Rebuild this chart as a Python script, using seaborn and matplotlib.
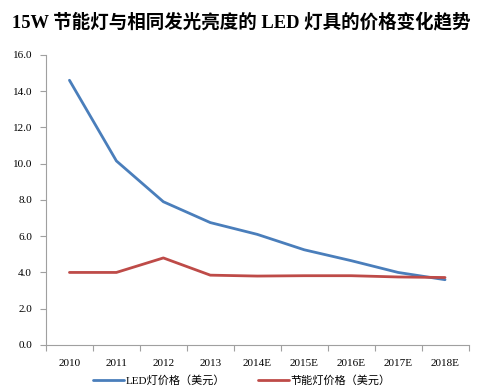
import numpy as np
import pandas as pd
import matplotlib.pyplot as plt
import seaborn as sns

years = ["2010", "2011", "2012", "2013", "2014E", "2015E", "2016E", "2017E", "2018E"]
led_price = [14.6, 10.15, 7.9, 6.75, 6.1, 5.25, 4.65, 4.0, 3.6]
cfl_price = [4.0, 4.0, 4.8, 3.85, 3.8, 3.82, 3.82, 3.75, 3.72]
series_names = ["LED灯价格（美元）", "节能灯价格（美元）"]

df = pd.DataFrame({
    "x": list(range(len(years))) * 2,
    "price": led_price + cfl_price,
    "series": [series_names[0]] * len(years) + [series_names[1]] * len(years),
})

sns.set_style("white")
plt.rcParams["font.family"] = ["Liberation Serif", "Noto Sans CJK SC"]
plt.rcParams["text.color"] = "black"
plt.rcParams["xtick.color"] = "black"
plt.rcParams["ytick.color"] = "black"

fig = plt.figure(figsize=(4.84, 3.92), dpi=100)
ax = fig.add_axes([0.095, 0.12, 0.873, 0.74])

sns.lineplot(data=df, x="x", y="price", hue="series",
             palette=["#4A7EBB", "#BE4B48"], linewidth=2.0, ax=ax, legend=False)

ax.set_xlim(-0.5, len(years) - 0.5)
ax.set_ylim(0, 16)
ax.set_yticks(np.arange(0, 16.1, 2))
ax.set_yticklabels([f"{v:.1f}" for v in np.arange(0, 16.1, 2)], fontsize=8)
ax.set_xticks(np.arange(-0.5, len(years), 1))
ax.set_xticklabels([])
ax.set_xticks(range(len(years)), minor=True)
ax.set_xticklabels(years, minor=True, fontsize=8)
ax.tick_params(axis="x", which="major", length=4, direction="out", color="#A0A0A0", bottom=True)
ax.tick_params(axis="x", which="minor", length=0, pad=10)
ax.tick_params(axis="y", length=4, direction="out", color="#A0A0A0", left=True, pad=6)
ax.set_xlabel("")
ax.set_ylabel("")
for s in ["top", "right"]:
    ax.spines[s].set_visible(False)
for s in ["left", "bottom"]:
    ax.spines[s].set_color("#A0A0A0")
    ax.spines[s].set_linewidth(0.8)

handles = [plt.Line2D([], [], color=c, lw=2) for c in ["#4A7EBB", "#BE4B48"]]
fig.legend(handles, series_names, loc="lower center", ncol=2, frameon=False,
           bbox_to_anchor=(0.5, -0.01), handlelength=2.8,
           handletextpad=0.1, columnspacing=3,
           prop={"family": ["Liberation Serif", "Noto Sans CJK SC"], "size": 8})

fig.text(0.025, 0.945, "15W 节能灯与相同发光亮度的 LED 灯具的价格变化趋势",
         fontsize=13.3, fontweight="bold", ha="left", va="center", color="black",
         family=["Liberation Serif", "Noto Sans CJK SC"])

fig.savefig("out.png", dpi=100)
